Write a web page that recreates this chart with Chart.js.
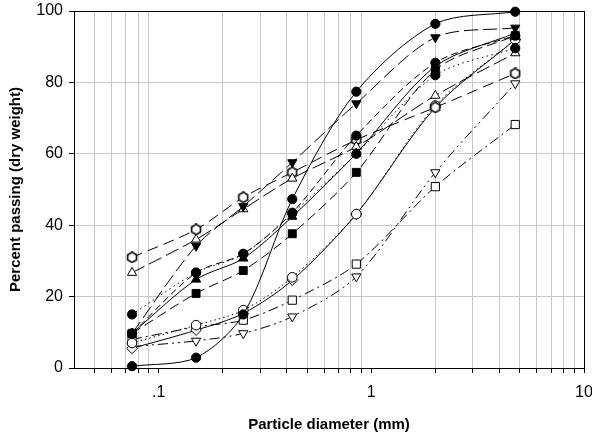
<!DOCTYPE html>
<html><head><meta charset="utf-8">
<script src="https://cdn.jsdelivr.net/npm/chart.js"></script>
<style>html,body{margin:0;padding:0;background:#fff}canvas{display:block}</style>
</head><body>
<canvas id="c" width="592" height="441"></canvas>
<script>
// ---- data ----
const sieveSizes = [0.075, 0.15, 0.25, 0.425, 0.85, 2.0, 4.75];
const seriesA = [0.5, 2.9, 15.0, 47.3, 77.4, 96.4, 99.8];   // filled circle, solid
const seriesB = [9.7, 34.2, 45.3, 57.6, 74.1, 92.6, 95.3];  // filled inv. triangle, long dash
const seriesC = [31.0, 38.8, 47.8, 54.8, 63.9, 73.0, 82.5]; // open hexagon, dash
const seriesD = [26.7, 36.0, 44.5, 53.1, 62.0, 76.3, 88.2]; // open triangle, long dash
const seriesE = [15.0, 26.7, 31.9, 43.3, 60.0, 82.0, 89.6]; // filled circle, dotted
const seriesF = [9.7, 24.8, 30.7, 42.4, 60.1, 84.5, 93.8];  // filled triangle, solid
const seriesG = [9.7, 20.9, 27.3, 37.6, 54.8, 83.5, 93.1];  // filled square, dash
const seriesH = [9.7, 26.7, 32.0, 43.5, 65.1, 85.5, 93.1];  // filled circle, dash
const seriesI = [7.0, 12.0, 16.2, 25.4, 43.1, 73.5, 92.0];  // open circle, dotted
const seriesJ = [5.5, 10.6, 15.3, 24.6, 43.1, 73.0, 92.0];  // open diamond, solid
const seriesK = [8.0, 11.5, 13.4, 19.0, 29.1, 50.8, 68.2];  // open square, dash-dot
const seriesL = [6.0, 7.6, 9.7, 14.4, 25.6, 54.8, 79.7];    // open inv. triangle, dash-dot-dot

const xTickValues = [0.05,0.06,0.07,0.08,0.09,0.1,0.2,0.3,0.4,0.5,0.6,0.7,0.8,0.9,1,2,3,4,5,6,7,8,9,10];
const xTickLabels = {'0.1': '.1', '1': '1', '10': '10'};
const xMajorValues = [0.1, 1, 10];
const yTickValues = [0, 20, 40, 60, 80, 100];

const xTitle = 'Particle diameter (mm)';
const yTitle = 'Percent passing (dry weight)';

// ---- helpers ----
function hexMarker(filled) {
  const c = document.createElement('canvas');
  c.width = 12; c.height = 12;
  const g = c.getContext('2d');
  g.beginPath();
  for (let i = 0; i < 6; i++) {
    const a = Math.PI / 6 + i * Math.PI / 3;
    const px = 6 + 5.1 * Math.cos(a), py = 6 + 5.1 * Math.sin(a);
    if (i === 0) g.moveTo(px, py); else g.lineTo(px, py);
  }
  g.closePath();
  g.fillStyle = filled ? '#000' : '#fff';
  g.fill();
  g.strokeStyle = '#000'; g.lineWidth = 1.6; g.stroke();
  return c;
}
const toXY = arr => arr.map((v, i) => ({x: sieveSizes[i], y: v}));

function ds(values, style, filled, dash, radius, rotation) {
  return {
    data: toXY(values),
    borderColor: '#000',
    borderWidth: 1,
    borderDash: dash,
    tension: 0.3,
    pointStyle: style,
    pointRotation: rotation || 0,
    pointRadius: radius,
    pointHoverRadius: radius,
    pointBackgroundColor: filled ? '#000' : '#fff',
    pointBorderColor: '#000',
    pointBorderWidth: 1,
    clip: false,
    fill: false
  };
}

const datasets = [
  ds(seriesA, 'circle', true, [], 4.6),
  ds(seriesB, 'triangle', true, [14, 5], 5.3, 180),
  ds(seriesH, 'circle', true, [7, 4], 4.6),
  ds(seriesE, 'circle', true, [1.5, 3.5], 4.6),
  ds(seriesF, 'triangle', true, [], 5.3),
  ds(seriesG, 'rect', true, [10, 5], 5.6),
  ds(seriesD, 'triangle', false, [14, 5], 5.3),
  ds(seriesC, hexMarker(false), false, [11, 6], 5),
  ds(seriesI, 'circle', false, [1.5, 3], 4.8),
  ds(seriesJ, 'rectRot', false, [], 5.3),
  ds(seriesK, 'rect', false, [10, 4, 2, 4], 5.8),
  ds(seriesL, 'triangle', false, [10, 4, 2, 4, 2, 4], 5.3, 180)
];

const boxPlugin = {
  id: 'box',
  beforeDatasetsDraw(chart) {
    const {ctx, chartArea: a} = chart;
    ctx.save();
    ctx.strokeStyle = '#000';
    ctx.lineWidth = 1;
    ctx.strokeRect(Math.round(a.left) + 0.5, Math.round(a.top) + 0.5,
                   Math.round(a.right) - Math.round(a.left), Math.round(a.bottom) - Math.round(a.top));
    ctx.restore();
  }
};

const FONT = "'Liberation Sans', Arial, sans-serif";

new Chart(document.getElementById('c'), {
  type: 'line',
  data: {datasets},
  plugins: [boxPlugin],
  options: {
    responsive: false,
    animation: false,
    devicePixelRatio: 1,
    layout: {padding: {top: 11, right: 8, left: 0, bottom: 0}},
    plugins: {legend: {display: false}, tooltip: {enabled: false}},
    scales: {
      x: {
        type: 'logarithmic',
        position: 'bottom',
        min: 0.04, max: 10,
        afterBuildTicks: s => { s.ticks = xTickValues.map(v => ({value: v})); },
        afterFit: s => { s.height = 73; s.paddingLeft = 0; s.paddingRight = 0; },
        ticks: {
          autoSkip: false, maxRotation: 0, minRotation: 0,
          color: '#000', padding: 10,
          font: {family: FONT, size: 16},
          callback: v => xTickLabels[String(v)] || ''
        },
        grid: {
          color: c => (c.tick && xMajorValues.includes(c.tick.value)) ? 'rgba(0,0,0,0)' : '#c8c8c8',
          tickColor: '#000', tickLength: 5, lineWidth: 1
        },
        border: {display: true, color: '#000', width: 1},
        title: {display: true, text: xTitle, color: '#000',
                font: {family: FONT, size: 15, weight: 'bold'}, padding: {top: 0, bottom: 7}}
      },
      y: {
        type: 'linear',
        min: 0, max: 100,
        afterBuildTicks: s => { s.ticks = yTickValues.map(v => ({value: v})); },
        afterFit: s => { s.width = 74; s.paddingTop = 0; s.paddingBottom = 0; },
        ticks: {color: '#000', padding: 6, font: {family: FONT, size: 16}},
        grid: {color: '#c8c8c8', tickColor: '#000', tickLength: 5, lineWidth: 1},
        border: {display: true, color: '#000', width: 1},
        title: {display: true, text: yTitle, color: '#000',
                font: {family: FONT, size: 15, weight: 'bold'}, padding: {top: 7, bottom: 0}}
      }
    }
  }
});
</script>
</body></html>
